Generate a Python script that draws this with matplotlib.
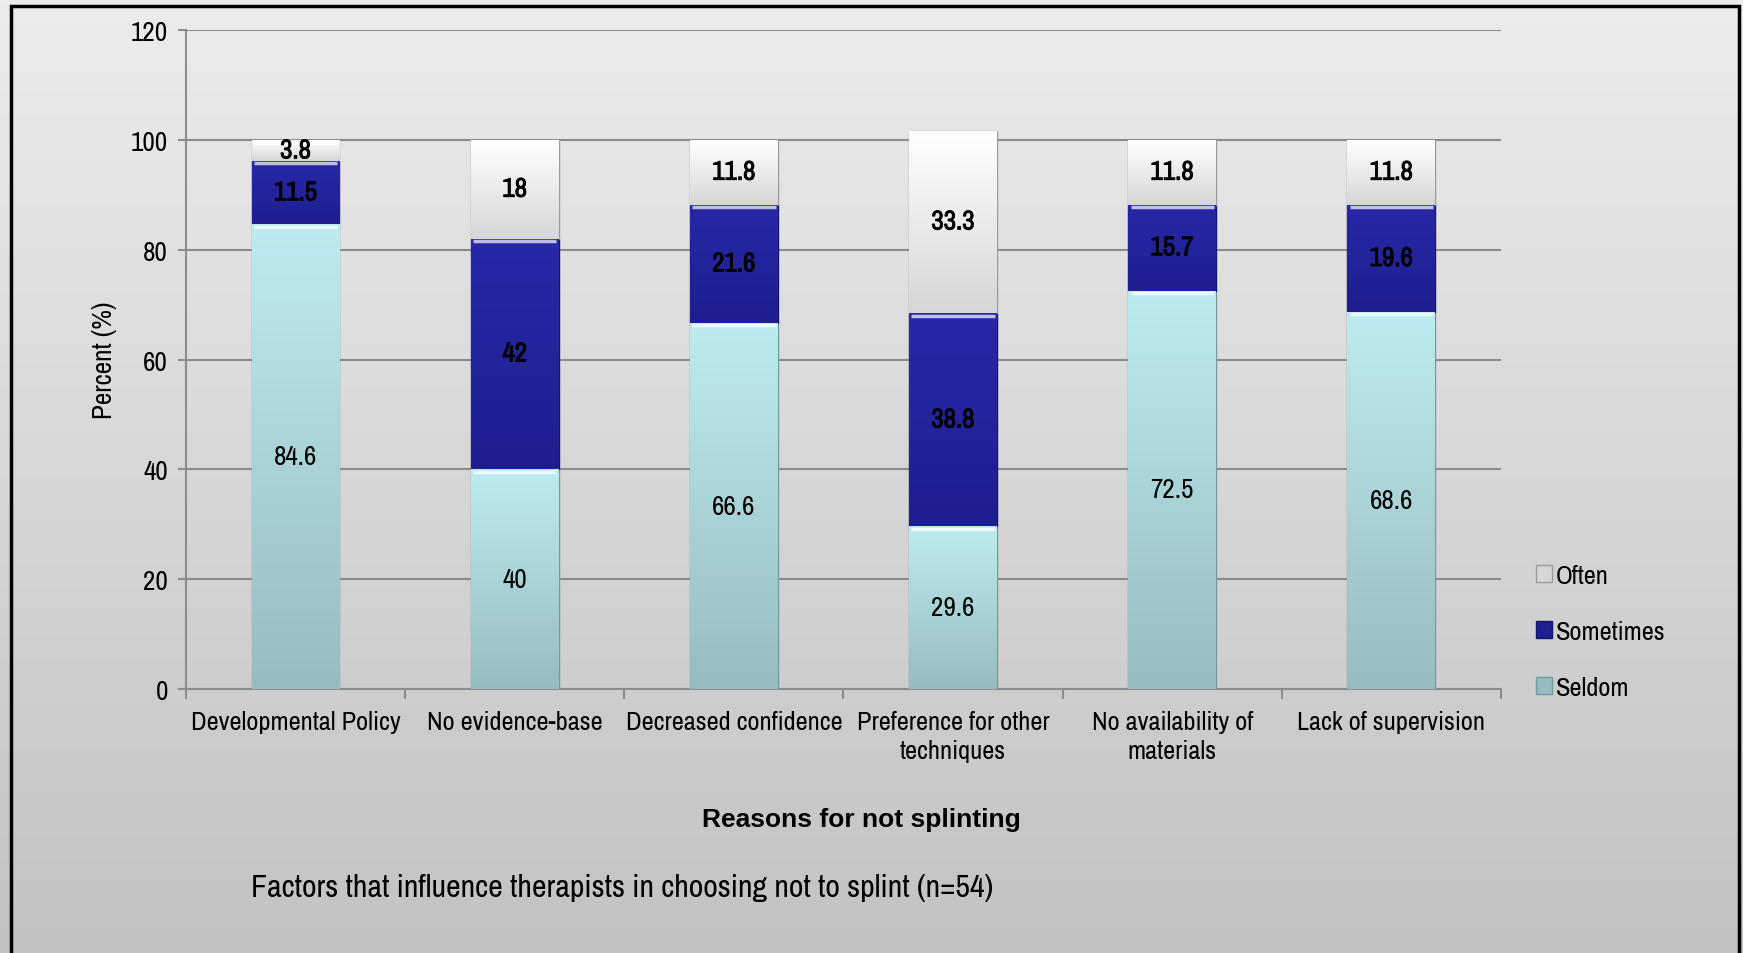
import numpy as np
import matplotlib
matplotlib.use('Agg')
import matplotlib.pyplot as plt
import matplotlib.patheffects as pe
from matplotlib import font_manager
from matplotlib.colors import LinearSegmentedColormap
from matplotlib.patches import Rectangle

categories = ['Developmental Policy', 'No evidence-base', 'Decreased confidence',
              'Preference for other\ntechniques', 'No availability of\nmaterials',
              'Lack of supervision']
seldom = [84.6, 40, 66.6, 29.6, 72.5, 68.6]
sometimes = [11.5, 42, 21.6, 38.8, 15.7, 19.6]
often = [3.8, 18, 11.8, 33.3, 11.8, 11.8]
yticks = [0, 20, 40, 60, 80, 100, 120]

names = sorted({f.name for f in font_manager.fontManager.ttflist})
narrow_names = [n for n in names if 'Narrow' in n or 'Condensed' in n]
if narrow_names:
    plt.rcParams['font.family'] = [narrow_names[0], 'DejaVu Sans']
    k = 1.0
else:
    plt.rcParams['font.family'] = ['Liberation Sans', 'DejaVu Sans']
    k = 0.84

fig = plt.figure(figsize=(17.43, 9.54), dpi=100)

# background gradient for the whole figure
bg = fig.add_axes([0, 0, 1, 1], zorder=-10)
bg.imshow(np.linspace(0, 1, 256).reshape(-1, 1),
          cmap=LinearSegmentedColormap.from_list('bg', ['#ececec', '#c2c2c2']),
          aspect='auto', extent=[0, 1, 0, 1], origin='upper')
bg.set_axis_off()
fig.patches.append(Rectangle((0.0063, -0.05), 0.9914, 1.043, transform=fig.transFigure,
                             fill=False, edgecolor='black', linewidth=2.5))

ax = fig.add_axes([0.1067, 0.2767, 0.7544, 0.6908])
ax.patch.set_alpha(0)

x = np.arange(len(categories))
w = 0.4
series = [
    ('Seldom', seldom, np.zeros(6), '#bcecef', '#97bcc0', '#6f9a9e', False),
    ('Sometimes', sometimes, np.array(seldom), '#2828a8', '#1e1e90', '#15156a', True),
    ('Often', often, np.array(seldom) + np.array(sometimes), '#ffffff', '#d6d6d6', '#9a9a9a', True),
]

bold_fx = [pe.withStroke(linewidth=0.6, foreground='black')]
handles = {}
for name, vals, base, ctop, cbot, edge, bold in series:
    bars = ax.bar(x, vals, w, bottom=base, color=cbot, edgecolor=edge, linewidth=1, zorder=3, label=name)
    handles[name] = bars
    cmap = LinearSegmentedColormap.from_list(name, [cbot, ctop])
    for b in bars:
        bx, by = b.get_xy()
        im = ax.imshow(np.linspace(0, 1, 256).reshape(-1, 1), cmap=cmap, origin='lower',
                       extent=[bx, bx + b.get_width(), by, by + b.get_height()],
                       aspect='auto', zorder=3.5)
        im.set_clip_path(b)
        ax.plot([bx + 0.01, bx + b.get_width() - 0.01], [by + b.get_height() - 0.4] * 2,
                color='white', lw=2.5, alpha=0.7, zorder=3.6, solid_capstyle='butt')
    for xi, v, b0 in zip(x, vals, base):
        ax.text(xi, b0 + v / 2, f'{v:g}', ha='center', va='center', fontsize=19.5 * k,
                zorder=5, path_effects=bold_fx if bold else None)

ax.set_xlim(-0.5, 5.5)
ax.set_ylim(0, 120)
ax.set_yticks(yticks)
ax.grid(axis='y', color='#8c8c8c', linewidth=1.5, zorder=0)
ax.set_axisbelow(True)
for s in ['top', 'right']:
    ax.spines[s].set_visible(False)
for s in ['left', 'bottom']:
    ax.spines[s].set_color('#8c8c8c')
    ax.spines[s].set_linewidth(1.5)
ax.tick_params(axis='y', length=6, width=1.5, color='#8c8c8c', pad=7, labelsize=19.5 * k)
ax.set_xticks(x)
ax.set_xticklabels(categories, fontsize=19 * k, linespacing=1.3)
ax.tick_params(axis='x', which='major', length=0, pad=15)
ax.set_xticks(np.arange(-0.5, 6, 1), minor=True)
ax.tick_params(axis='x', which='minor', length=7, width=1.5, color='#8c8c8c')
ax.set_ylabel('Percent (%)', fontsize=19.5 * k, labelpad=10)

leg = fig.legend([handles['Often'], handles['Sometimes'], handles['Seldom']],
                 ['Often', 'Sometimes', 'Seldom'], loc='center left',
                 bbox_to_anchor=(0.8675, 0.3375), frameon=False, fontsize=19 * k,
                 handlelength=0.6, handleheight=0.6, handletextpad=0.15, labelspacing=1.25)

fig.text(0.494, 0.1405, 'Reasons for not splinting', ha='center', va='center',
         fontsize=19, fontweight='bold', family=['Liberation Sans', 'DejaVu Sans'])
fig.text(0.144, 0.069, 'Factors that influence therapists in choosing not to splint (n=54)',
         ha='left', va='center', fontsize=23 * k)

fig.savefig('out.png', dpi=100)
